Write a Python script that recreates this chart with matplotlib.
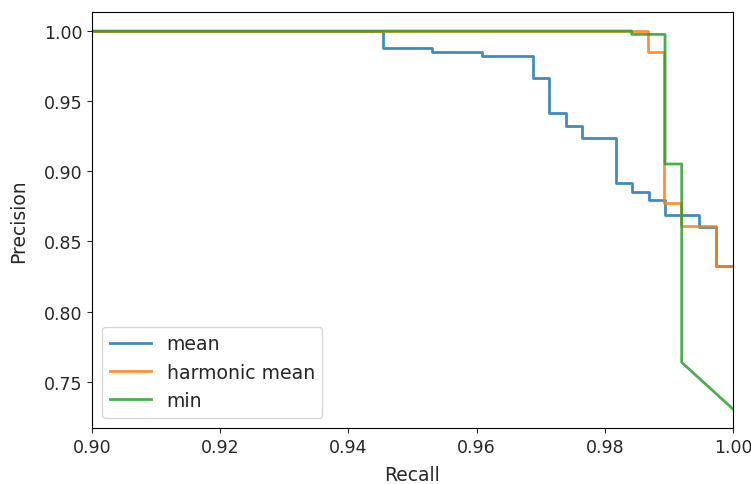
import matplotlib
matplotlib.use("Agg")
import matplotlib.pyplot as plt

# mean (step, where='post')
mean_recall = [0.88, 0.9454, 0.9531, 0.9609, 0.9688, 0.9713, 0.9739, 0.9765,
               0.9817, 0.9843, 0.9869, 0.9894, 0.9947, 0.9973, 1.0]
mean_prec = [1.0, 0.9876, 0.9847, 0.9819, 0.9666, 0.9418, 0.9322, 0.9240,
             0.8913, 0.8854, 0.8792, 0.8689, 0.8605, 0.8324, 0.8324]

# harmonic mean (step, where='post')
hmean_recall = [0.88, 0.9867, 0.9892, 0.9919, 0.9973, 1.0]
hmean_prec = [1.0, 0.9847, 0.8777, 0.8610, 0.8324, 0.8324]

# min (polyline vertices)
min_recall = [0.88, 0.9842, 0.9842, 0.9894, 0.9894, 0.9920, 0.9920, 1.0]
min_prec = [1.0, 1.0, 0.9976, 0.9976, 0.9052, 0.9052, 0.7638, 0.7305]

xticks = [0.90, 0.92, 0.94, 0.96, 0.98, 1.00]
yticks = [0.75, 0.80, 0.85, 0.90, 0.95, 1.00]

plt.rcParams['font.size'] = 12.5
plt.rcParams['text.color'] = '#262626'
plt.rcParams['axes.labelcolor'] = '#262626'
plt.rcParams['xtick.color'] = '#262626'
plt.rcParams['ytick.color'] = '#262626'
fig = plt.figure(figsize=(7.51, 4.85), dpi=100)
ax = fig.add_axes([0.1225, 0.1155, 0.8535, 0.8575])

lw = 2.0
ax.step(mean_recall, mean_prec, where='post', color='#1f77b4', lw=lw, alpha=0.85, label='mean')
ax.step(hmean_recall, hmean_prec, where='post', color='#ff7f0e', lw=lw, alpha=0.85, label='harmonic mean')
ax.plot(min_recall, min_prec, color='#2ca02c', lw=lw, alpha=0.85, label='min')

ax.set_xlim(0.90, 1.00)
ax.set_ylim(0.7170, 1.0135)
ax.set_xticks(xticks)
ax.set_yticks(yticks)
ax.set_xticklabels([f"{v:.2f}" for v in xticks])
ax.set_yticklabels([f"{v:.2f}" for v in yticks])
ax.set_xlabel('Recall', fontsize=13.5, labelpad=7)
ax.set_ylabel('Precision', fontsize=13.5, labelpad=11)
ax.legend(loc='lower left', fontsize=13.6, handlelength=2.2,
          borderaxespad=0.55)

fig.savefig('out.png', dpi=100)
